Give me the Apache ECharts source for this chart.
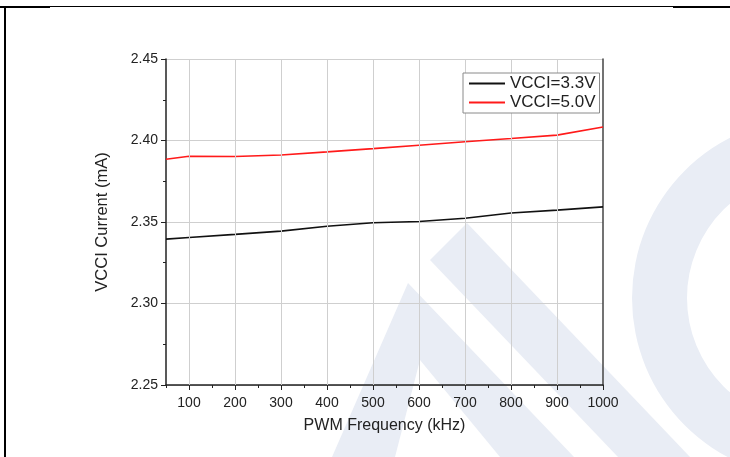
<!DOCTYPE html>
<html>
<head>
<meta charset="utf-8">
<script src="https://cdn.jsdelivr.net/npm/echarts@6/dist/echarts.min.js"></script>
<style>
html,body{margin:0;padding:0;background:#fff;}
#c{width:730px;height:457px;}
</style>
</head>
<body>
<div id="c"></div>
<script>
const freqs = [50, 100, 200, 300, 400, 500, 600, 700, 800, 900, 1000];
const vcci33 = [2.3395, 2.3405, 2.3424, 2.3444, 2.3474, 2.3495, 2.3503, 2.3523, 2.3555, 2.3573, 2.3593];
const vcci50 = [2.3885, 2.3903, 2.3902, 2.3911, 2.3930, 2.3950, 2.3971, 2.3992, 2.4012, 2.4033, 2.4083];
const seriesNames = ['VCCI=3.3V', 'VCCI=5.0V'];
const xTickLabels = [100, 200, 300, 400, 500, 600, 700, 800, 900, 1000];
const xGridLines = [100, 200, 300, 400, 500, 600, 700, 800, 900];

const font = '"Liberation Sans", Arial, sans-serif';
const chart = echarts.init(document.getElementById('c'), null, {renderer: 'canvas'});

const pair = (xs, ys) => xs.map((x, i) => [x, ys[i]]);

chart.setOption({
  animation: false,
  backgroundColor: '#ffffff',
  textStyle: {fontFamily: font},
  graphic: [
    // watermark
    {type: 'polygon', z: -10, silent: true, shape: {points: [[430,260],[467,223],[690,457],[618,457]]}, style: {fill: '#e9edf5'}},
    {type: 'polygon', z: -10, silent: true, shape: {points: [[408,283],[574,457],[500,457],[420,360],[395,457],[332,457]]}, style: {fill: '#e9edf5'}},
    {type: 'ring', z: -10, silent: true, shape: {cx: 812, cy: 298, r: 180, r0: 125}, style: {fill: '#e9edf5'}},
    // frame
    {type: 'line', z: 10, silent: true, shape: {x1: 5, y1: 6, x2: 5, y2: 457}, style: {stroke: '#000', lineWidth: 2}},
    {type: 'line', z: 10, silent: true, shape: {x1: 0, y1: 6.5, x2: 730, y2: 6.5}, style: {stroke: '#000', lineWidth: 1}},
    {type: 'line', z: 10, silent: true, shape: {x1: 0, y1: 7, x2: 50, y2: 7}, style: {stroke: '#000', lineWidth: 2}},
    {type: 'line', z: 10, silent: true, shape: {x1: 673, y1: 7, x2: 730, y2: 7}, style: {stroke: '#000', lineWidth: 2}}
  ],
  grid: {left: 166, right: 127, top: 59, bottom: 72, containLabel: false},
  legend: {
    data: seriesNames,
    left: 463, top: 73,
    z: 20, zlevel: 0,
    orient: 'vertical',
    icon: 'rect',
    backgroundColor: '#fff',
    borderColor: '#8a8a8a', borderWidth: 1, borderRadius: 0,
    padding: [2, 4, 2, 6],
    itemGap: 2,
    itemWidth: 36, itemHeight: 2,
    textStyle: {fontFamily: font, fontSize: 17, color: '#222'}
  },
  xAxis: [{
    type: 'value', min: 50, max: 1000, interval: 50,
    name: 'PWM Frequency (kHz)', nameLocation: 'middle', nameGap: 33,
    nameTextStyle: {fontFamily: font, fontSize: 16, color: '#222'},
    axisLine: {show: true, lineStyle: {color: '#222', width: 1.5}},
    axisTick: {show: true, inside: false, length: 3, lineStyle: {color: '#222'}},
    axisLabel: {show: false},
    splitLine: {show: false}
  }, {
    type: 'value', min: 50, max: 1000, position: 'bottom',
    axisLine: {show: false},
    axisTick: {show: true, length: 5, customValues: xTickLabels, lineStyle: {color: '#222'}},
    axisLabel: {show: true, customValues: xTickLabels, fontFamily: font, fontSize: 14, color: '#222', margin: 11, formatter: v => String(v)},
    splitLine: {show: false}
  }],
  yAxis: [{
    type: 'value', min: 2.25, max: 2.45, interval: 0.05,
    name: 'VCCI Current (mA)', nameLocation: 'middle', nameGap: 55,
    nameTextStyle: {fontFamily: font, fontSize: 16.5, color: '#222'},
    axisLine: {show: true, lineStyle: {color: '#222', width: 1.5}},
    axisTick: {show: true, length: 5, lineStyle: {color: '#222'}},
    minorTick: {show: true, splitNumber: 2, length: 3, lineStyle: {color: '#222'}},
    axisLabel: {fontFamily: font, fontSize: 14, color: '#222', margin: 8, formatter: v => v.toFixed(2)},
    splitLine: {show: true, lineStyle: {color: '#cfcfcf', width: 1}}
  }, {
    type: 'value', min: 2.25, max: 2.45, position: 'right',
    axisLine: {show: true, lineStyle: {color: '#444', width: 1.5}},
    axisTick: {show: false}, axisLabel: {show: false}, splitLine: {show: false}
  }],
  series: [
    {
      name: 'grid', type: 'line', data: [], z: 1, silent: true,
      markLine: {
        silent: true, symbol: ['none', 'none'], label: {show: false},
        lineStyle: {color: '#cfcfcf', width: 1, type: 'solid'},
        data: xGridLines.map(v => ({xAxis: v}))
      }
    },
    {
      name: seriesNames[0], type: 'line', data: pair(freqs, vcci33), z: 3,
      symbol: 'none', color: '#111', lineStyle: {color: '#111', width: 1.6}
    },
    {
      name: seriesNames[1], type: 'line', data: pair(freqs, vcci50), z: 3,
      symbol: 'none', color: '#ff1a1a', lineStyle: {color: '#ff1a1a', width: 1.6}
    }
  ]
});
</script>
</body>
</html>
